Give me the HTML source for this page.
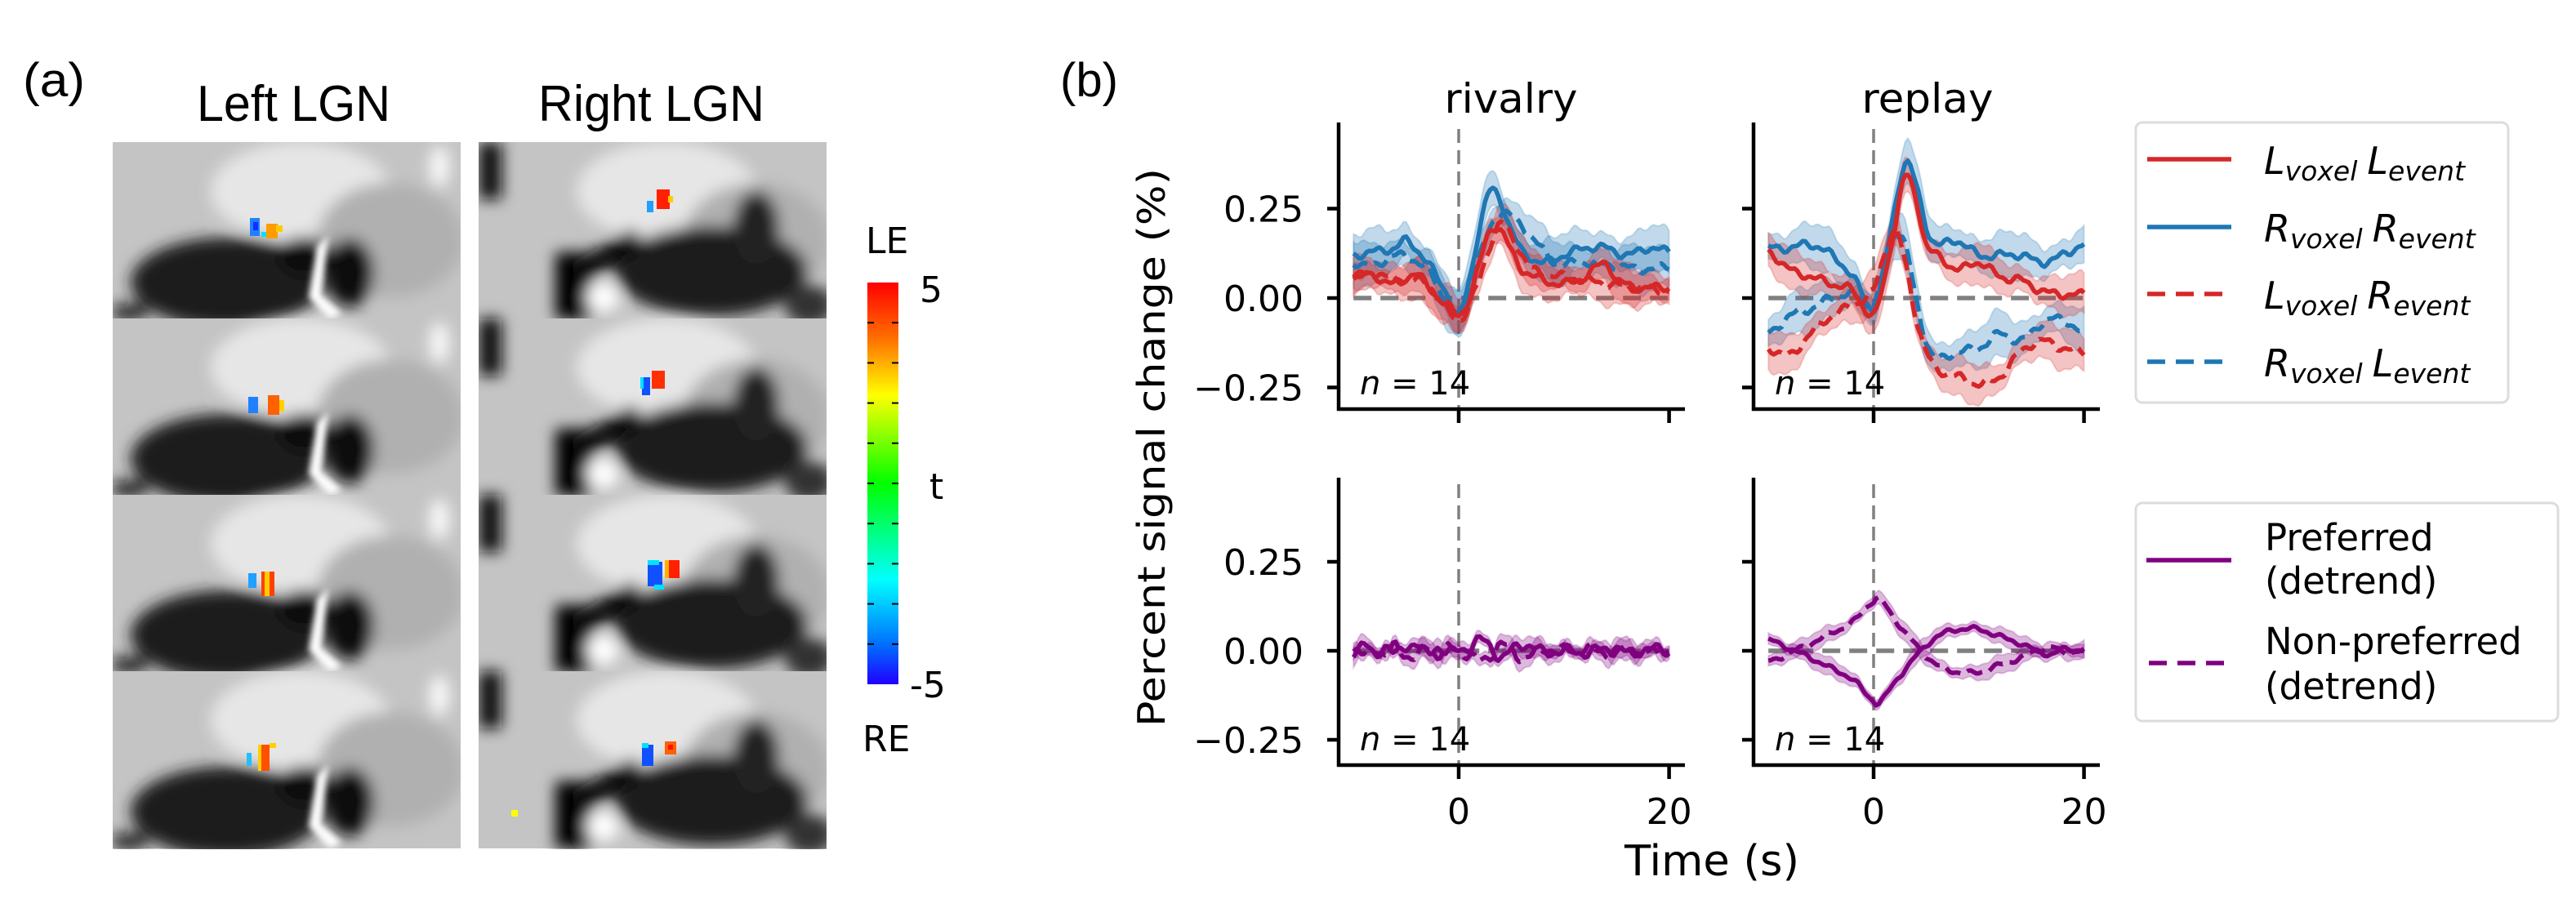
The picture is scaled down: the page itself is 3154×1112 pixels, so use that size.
<!DOCTYPE html>
<html><head><meta charset="utf-8"><style>
html,body{margin:0;padding:0;background:#fff;}
svg{display:block}
</style></head><body>
<svg id="s" width="3154" height="1112" viewBox="0 0 3154 1112" xmlns="http://www.w3.org/2000/svg">
<defs>
<filter id="bl" x="-20%" y="-20%" width="140%" height="140%"><feGaussianBlur stdDeviation="9"/></filter>
<filter id="bl2" x="-20%" y="-20%" width="140%" height="140%"><feGaussianBlur stdDeviation="4"/></filter>
<linearGradient id="cb" x1="0" y1="0" x2="0" y2="1">
<stop offset="0" stop-color="#ff0000"/><stop offset="0.14" stop-color="#ff7000"/><stop offset="0.28" stop-color="#ffff00"/>
<stop offset="0.5" stop-color="#00ff00"/><stop offset="0.74" stop-color="#00ffff"/><stop offset="0.9" stop-color="#0070ff"/><stop offset="1" stop-color="#2000ff"/>
</linearGradient>
<clipPath id="cl"><rect x="138" y="174" width="426" height="866"/></clipPath>
<clipPath id="cr"><rect x="586" y="174" width="426" height="866"/></clipPath>
</defs>
<g font-family="Liberation Sans, sans-serif" fill="#000">
<text x="28" y="118" font-size="58" textLength="76" lengthAdjust="spacingAndGlyphs">(a)</text>
<text x="241" y="148" font-size="62" textLength="237" lengthAdjust="spacingAndGlyphs">Left LGN</text>
<text x="659" y="148" font-size="62" textLength="277" lengthAdjust="spacingAndGlyphs">Right LGN</text>
<text x="1298" y="118" font-size="58" textLength="71" lengthAdjust="spacingAndGlyphs">(b)</text>
</g>
<g id="brain"></g>
<rect x="1062" y="346" width="38" height="492" fill="url(#cb)"/>
<g id="cbt" stroke="#000" stroke-width="2"></g>
<g font-family="DejaVu Sans, sans-serif" font-size="44" fill="#000">
<text x="1060" y="310">LE</text>
<text x="1126" y="370">5</text>
<text x="1138" y="611">t</text>
<text x="1114" y="854">-5</text>
<text x="1056" y="920">RE</text>
</g>
<g id="plots"></g>
</svg>
<script>
var NS="http://www.w3.org/2000/svg",S=document.getElementById('s');
function el(p,t,a,txt){var e=document.createElementNS(NS,t);for(var k in a)e.setAttribute(k,a[k]);if(txt!=null)e.textContent=txt;p.appendChild(e);return e;}
var cbt=document.getElementById('cbt');
for(var i=1;i<10;i++){var y=346+i*49.2;el(cbt,'line',{x1:1062,x2:1070,y1:y,y2:y});el(cbt,'line',{x1:1092,x2:1100,y1:y,y2:y});}
var B=document.getElementById('brain');
function cell(x0,y0,right,vox){
  var g=el(B,'g',{'clip-path':right?'url(#cr)':'url(#cl)'});
  el(g,'rect',{x:x0,y:y0,width:426,height:217,fill:'#c4c4c4'});
  var gb=el(g,'g',{filter:'url(#bl)'});
  el(gb,'ellipse',{cx:x0+230,cy:y0+60,rx:110,ry:60,fill:'#e6e6e6'});
  el(gb,'ellipse',{cx:x0+340,cy:y0+120,rx:90,ry:70,fill:'#b0b0b0'});
  if(!right){
    el(gb,'ellipse',{cx:x0+140,cy:y0+172,rx:118,ry:55,fill:'#1a1a1a'});
    el(gb,'ellipse',{cx:x0+235,cy:y0+140,rx:32,ry:24,fill:'#0d0d0d'});
    el(gb,'ellipse',{cx:x0+290,cy:y0+160,rx:30,ry:42,fill:'#0a0a0a'});
    el(gb,'rect',{x:x0,y:y0+200,width:40,height:17,fill:'#111'});
    el(gb,'ellipse',{cx:x0+400,cy:y0+30,rx:12,ry:25,fill:'#fafafa'});
    el(g,'path',{d:'M'+(x0+250)+' '+(y0+128)+' l14 -14 l-8 74 l24 22 l-14 7 l-26 -27 z',fill:'#fff',filter:'url(#bl2)'});
  } else {
    el(gb,'ellipse',{cx:x0+285,cy:y0+158,rx:118,ry:55,fill:'#1c1c1c'});
    el(gb,'ellipse',{cx:x0+340,cy:y0+105,rx:28,ry:45,fill:'#222'});
    el(gb,'rect',{x:x0+94,y:y0+135,width:44,height:82,fill:'#050505'});
    el(gb,'path',{d:'M'+(x0+110)+' '+(y0+150)+' L'+(x0+190)+' '+(y0+105)+' L'+(x0+205)+' '+(y0+130)+' L'+(x0+125)+' '+(y0+175)+'z',fill:'#0a0a0a'});
    el(gb,'rect',{x:x0,y:y0,width:28,height:70,fill:'#111'});
    el(gb,'ellipse',{cx:x0+405,cy:y0+200,rx:30,ry:25,fill:'#333'});
    el(gb,'ellipse',{cx:x0+152,cy:y0+190,rx:20,ry:18,fill:'#fff'});
  }
  vox.forEach(function(v){el(g,'rect',{x:x0+v[0],y:y0+v[1],width:v[2],height:v[3],fill:v[4]});});
}
var rows=[174,390,606,822];
var vl=[
 [[168,93,12,22,'#2080ff'],[172,98,6,10,'#1030ff'],[188,100,14,18,'#ff9c00'],[200,102,8,8,'#ffcc00'],[182,110,6,6,'#00e0ff']],
 [[166,96,12,20,'#2080ff'],[190,94,14,24,'#ff6000'],[204,100,6,14,'#ffd000']],
 [[166,96,10,18,'#20a0ff'],[182,94,16,30,'#ff4000'],[186,94,6,30,'#ffcc00']],
 [[164,100,6,16,'#20c0ff'],[178,90,14,32,'#ff5000'],[178,90,4,32,'#ffd000'],[192,88,8,6,'#ffd000']]];
var vr=[
 [[218,58,16,24,'#ff2000'],[232,66,6,8,'#ffcc00'],[206,72,8,14,'#20a0ff']],
 [[212,64,16,22,'#ff3000'],[200,72,10,22,'#1050ff'],[198,72,4,14,'#00e0ff']],
 [[207,82,18,30,'#1050ff'],[207,80,14,6,'#00e0ff'],[215,110,12,6,'#00e0ff'],[232,80,14,22,'#ff2000'],[228,80,5,22,'#ffb000']],
 [[200,90,14,26,'#1050ff'],[200,88,8,6,'#00e0ff'],[228,86,14,16,'#ff6000'],[232,90,6,6,'#ff1000'],[40,170,8,8,'#ffff00']]];
rows.forEach(function(y,i){cell(138,y,false,vl[i]);cell(586,y,true,vr[i]);});
var P=document.getElementById('plots');
function interp(pts,t){
  for(var i=0;i<pts.length-1;i++){if(t<=pts[i+1][0]){
    var p0=pts[Math.max(i-1,0)],p1=pts[i],p2=pts[i+1],p3=pts[Math.min(i+2,pts.length-1)];
    var u=(t-p1[0])/(p2[0]-p1[0]),u2=u*u,u3=u2*u;
    return 0.5*((2*p1[1])+(-p0[1]+p2[1])*u+(2*p0[1]-5*p1[1]+4*p2[1]-p3[1])*u2+(-p0[1]+3*p1[1]-3*p2[1]+p3[1])*u3);}}
  return pts[pts.length-1][1];}
function series(X,Y,pts,col,dash,err,seed,wig){
  wig=wig||1;
  var up=[],lo=[],mid=[];
  for(var t=-10;t<=20.001;t+=0.25){
    var v=interp(pts,t)+wig*(0.008*Math.sin(t*2.3+seed)+0.005*Math.sin(t*5.1+seed*2));
    var e=err*(1+0.3*Math.sin(t*0.7+seed));
    mid.push(X(t).toFixed(1)+','+Y(v).toFixed(1));
    up.push(X(t).toFixed(1)+','+Y(v+e).toFixed(1));
    lo.unshift(X(t).toFixed(1)+','+Y(v-e).toFixed(1));
  }
  el(P,'path',{d:'M'+up.join('L')+'L'+lo.join('L')+'Z',fill:col,'fill-opacity':0.28,stroke:col,'stroke-opacity':0.2,'stroke-width':2});
  return function(){el(P,'path',{d:'M'+mid.join('L'),fill:'none',stroke:col,'stroke-width':5.5,'stroke-dasharray':dash?'20,9':'none','stroke-linejoin':'round'});};
}
var R='#d62728',Bl='#1f77b4',Pu='#800080';
function axes(sx,x0,yTopSp,yBotSp,yz,sc,ylab,xlab){
  var X=function(t){return x0+12.88*t;},Y=function(v){return yz-sc*v;};
  return {X:X,Y:Y,draw:function(){
    el(P,'line',{x1:X(0),x2:X(0),y1:yTopSp+8,y2:yBotSp,stroke:'#808080','stroke-width':3.5,'stroke-dasharray':'17,9'});
    el(P,'line',{x1:X(-10),x2:X(20),y1:yz,y2:yz,stroke:'#808080','stroke-width':5.5,'stroke-dasharray':'22,11'});
  },spines:function(){
    el(P,'line',{x1:sx,x2:sx,y1:yTopSp,y2:yBotSp+2,stroke:'#000','stroke-width':4.5});
    el(P,'line',{x1:sx-2,x2:sx+424,y1:yBotSp,y2:yBotSp,stroke:'#000','stroke-width':4.5});
    [0.25,0,-0.25].forEach(function(v){var y=Y(v);el(P,'line',{x1:sx-14,x2:sx,y1:y,y2:y,stroke:'#000','stroke-width':4.5});
      if(ylab)el(P,'text',{x:1596,y:y+16,'text-anchor':'end','font-family':'DejaVu Sans, sans-serif','font-size':44},v==0?'0.00':(v>0?'0.25':'\u22120.25'));});
    [0,20].forEach(function(t){el(P,'line',{x1:X(t),x2:X(t),y1:yBotSp,y2:yBotSp+17,stroke:'#000','stroke-width':4.5});
      if(xlab)el(P,'text',{x:X(t),y:yBotSp+72,'text-anchor':'middle','font-family':'DejaVu Sans, sans-serif','font-size':44},String(t));});
    var n=el(P,'text',{x:sx+26,y:yBotSp-18,'font-family':'DejaVu Sans, sans-serif','font-size':40});
    el(n,'tspan',{'font-style':'italic'},'n');el(n,'tspan',{},' = 14');
  }};
}
var TL=axes(1639,1786,150,501,365,438,true,false),TR=axes(2147,2294,150,501,365,438,false,false),
    BL=axes(1639,1786,585,937,797,436,true,true),BR=axes(2147,2294,585,937,797,436,false,true);
var draws=[];
[TL,TR,BL,BR].forEach(function(a){a.draw();});
draws.push(series(TL.X,TL.Y,[[-10,0.12],[-8,0.13],[-6,0.14],[-5,0.16],[-3,0.1],[-1,0.01],[0,-0.05],[1,0.05],[2,0.2],[3,0.3],[4,0.27],[5,0.19],[6,0.13],[8,0.1],[10,0.12],[12,0.14],[14,0.14],[16,0.12],[18,0.14],[20,0.13]],Bl,false,0.05,1));
draws.push(series(TL.X,TL.Y,[[-10,0.1],[-8,0.09],[-6,0.12],[-3,0.08],[0,-0.05],[2,0.12],[4,0.24],[6,0.2],[7,0.17],[9,0.1],[12,0.1],[15,0.09],[18,0.08],[20,0.09]],Bl,true,0.05,2));
draws.push(series(TL.X,TL.Y,[[-10,0.07],[-8,0.06],[-6,0.04],[-4,0.07],[-3,0.03],[-1,-0.02],[0,-0.05],[1,0.0],[2,0.1],[3,0.19],[4,0.19],[5,0.13],[6,0.08],[8,0.05],[10,0.04],[12,0.06],[14,0.1],[15,0.05],[17,0.03],[20,0.03]],R,false,0.045,3));
draws.push(series(TL.X,TL.Y,[[-10,0.05],[-8,0.07],[-6,0.05],[-3,0.04],[0,-0.06],[2,0.05],[3,0.15],[4,0.21],[5,0.17],[7,0.08],[10,0.06],[14,0.04],[20,0.02]],R,true,0.045,4));
draws.push(series(TR.X,TR.Y,[[-10,0.14],[-8,0.14],[-6,0.15],[-4,0.12],[-2,0.06],[0,-0.03],[1,0.08],[2,0.25],[3,0.38],[4,0.32],[5,0.2],[6,0.15],[8,0.16],[10,0.12],[12,0.12],[14,0.12],[16,0.1],[18,0.12],[20,0.15]],Bl,false,0.05,5));
draws.push(series(TR.X,TR.Y,[[-10,-0.1],[-8,-0.05],[-6,-0.03],[-4,0],[-2,0.01],[0,-0.02],[1,0.08],[2,0.18],[3,0.15],[4,0],[5,-0.12],[6,-0.17],[8,-0.15],[10,-0.14],[12,-0.1],[14,-0.12],[16,-0.07],[18,-0.06],[20,-0.1]],Bl,true,0.05,6));
draws.push(series(TR.X,TR.Y,[[-10,0.13],[-8,0.08],[-6,0.06],[-4,0.04],[-2,0.02],[0,-0.05],[1,0.05],[2,0.2],[3,0.34],[4,0.28],[5,0.15],[6,0.12],[8,0.08],[10,0.1],[12,0.06],[14,0.05],[16,0.02],[18,0.01],[20,0.01]],R,false,0.045,7));
draws.push(series(TR.X,TR.Y,[[-10,-0.14],[-8,-0.16],[-6,-0.1],[-4,-0.05],[-2,-0.02],[0,0.02],[1,0.12],[2,0.19],[3,0.1],[4,-0.05],[5,-0.15],[6,-0.2],[8,-0.22],[10,-0.24],[12,-0.22],[14,-0.15],[16,-0.12],[18,-0.14],[20,-0.15]],R,true,0.045,8));
var rw=[[-10,0],[-9,0.015],[-8,-0.012],[-7,0.015],[-6,-0.012],[-5,0.012],[-4,0.02],[-3,-0.012],[-2,0.012],[-1,-0.005],[0,0],[1,0.012],[2,0.03],[3,0.012],[4,-0.018],[5,0],[6,0.018],[7,0.012],[8,-0.005],[10,0.0],[12,-0.005],[14,0.005],[16,-0.005],[18,0.005],[20,0]];
draws.push(series(BL.X,BL.Y,rw,Pu,false,0.022,9,1.4));
draws.push(series(BL.X,BL.Y,rw.map(function(p){return [p[0],-p[1]];}),Pu,true,0.022,10,1.4));
var rp=[[-10,0.03],[-9,0.02],[-7.5,0],[-6,-0.02],[-4,-0.05],[-2,-0.08],[0,-0.14],[0.7,-0.14],[2,-0.09],[3,-0.05],[4.5,0],[6,0.04],[8,0.06],[10,0.06],[12,0.04],[14,0.02],[15.5,0],[17,-0.01],[18,0.005],[20,0]];
draws.push(series(BR.X,BR.Y,rp,Pu,false,0.02,11,0.6));
draws.push(series(BR.X,BR.Y,rp.map(function(p){return [p[0],-p[1]];}),Pu,true,0.02,12,0.6));
draws.forEach(function(f){f();});
[TL,TR,BL,BR].forEach(function(a){a.spines();});
el(P,'text',{x:1850,y:138,'text-anchor':'middle','font-family':'DejaVu Sans, sans-serif','font-size':50,textLength:163,lengthAdjust:'spacingAndGlyphs'},'rivalry');
el(P,'text',{x:2360,y:138,'text-anchor':'middle','font-family':'DejaVu Sans, sans-serif','font-size':50,textLength:161,lengthAdjust:'spacingAndGlyphs'},'replay');
el(P,'text',{x:2096,y:1072,'text-anchor':'middle','font-family':'DejaVu Sans, sans-serif','font-size':52,textLength:214,lengthAdjust:'spacingAndGlyphs'},'Time (s)');
el(P,'text',{x:0,y:0,transform:'translate(1426,548) rotate(-90)','text-anchor':'middle','font-family':'DejaVu Sans, sans-serif','font-size':46,textLength:684,lengthAdjust:'spacingAndGlyphs'},'Percent signal change (%)');
el(P,'rect',{x:2615,y:150,width:456,height:343,rx:8,fill:'#fff',stroke:'#dcdcdc','stroke-width':3});
var L1=[[R,false,'L','voxel','L','event',195],[Bl,false,'R','voxel','R','event',278],[R,true,'L','voxel','R','event',360],[Bl,true,'R','voxel','L','event',443]];
L1.forEach(function(l){
  el(P,'line',{x1:2629,x2:2732,y1:l[6],y2:l[6],stroke:l[0],'stroke-width':5.5,'stroke-dasharray':l[1]?'22,13':'none'});
  var t=el(P,'text',{x:2772,y:l[6]+18,'font-family':'DejaVu Sans, sans-serif','font-style':'italic','font-size':46});
  el(t,'tspan',{},l[2]);el(t,'tspan',{'font-size':33,dy:8},l[3]);
  el(t,'tspan',{dy:-8,dx:12},l[4]);el(t,'tspan',{'font-size':33,dy:8},l[5]);
});
el(P,'rect',{x:2615,y:616,width:517,height:267,rx:8,fill:'#fff',stroke:'#dcdcdc','stroke-width':3});
el(P,'line',{x1:2628,x2:2732,y1:686,y2:686,stroke:Pu,'stroke-width':5.5});
el(P,'line',{x1:2631,x2:2727,y1:812,y2:812,stroke:Pu,'stroke-width':5.5,'stroke-dasharray':'22,13'});
[['Preferred',674],['(detrend)',727],['Non-preferred',801],['(detrend)',856]].forEach(function(a){
  el(P,'text',{x:2773,y:a[1],'font-family':'DejaVu Sans, sans-serif','font-size':45},a[0]);});
</script>
</body></html>
